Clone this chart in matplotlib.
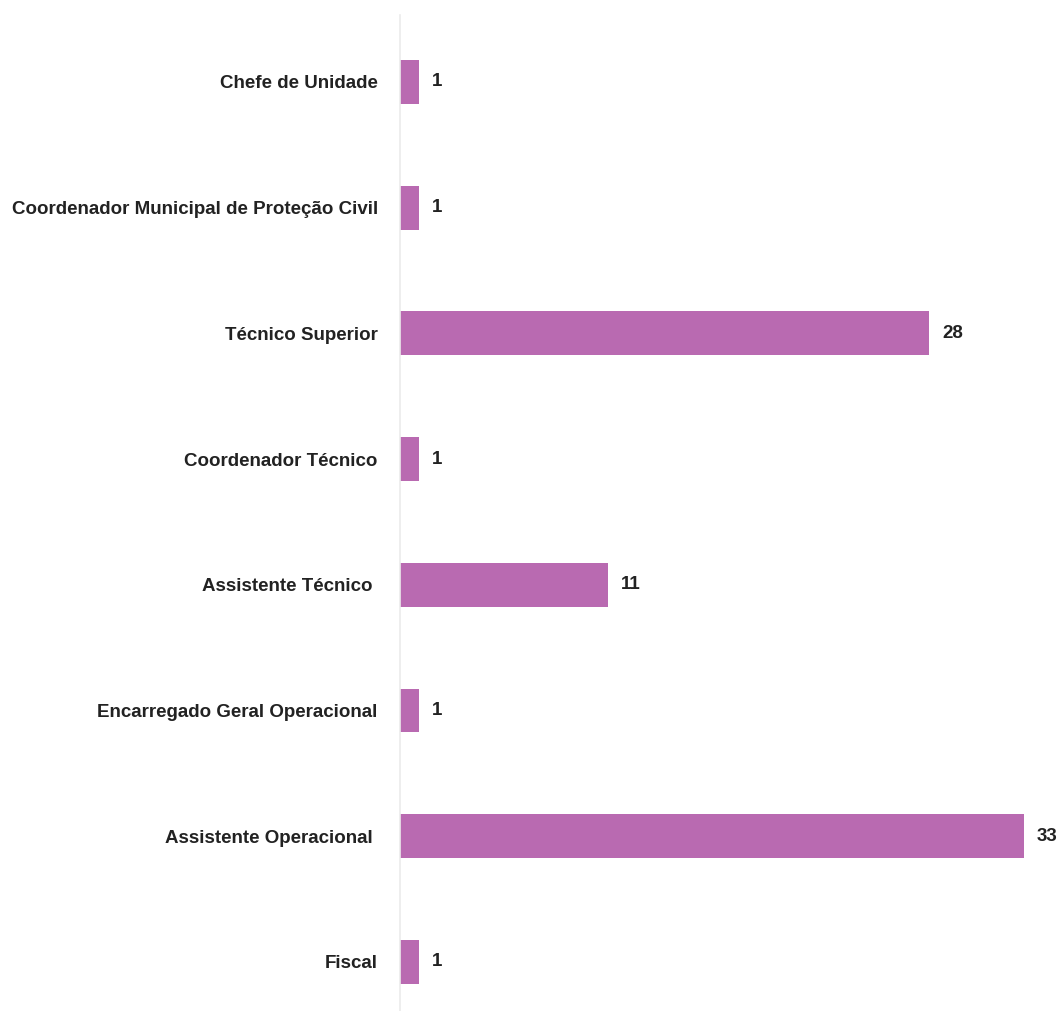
import matplotlib
matplotlib.use("Agg")
import matplotlib.pyplot as plt
from matplotlib import font_manager

categorias = ["Chefe de Unidade",
              "Coordenador Municipal de Proteção Civil",
              "Técnico Superior",
              "Coordenador Técnico",
              "Assistente Técnico ",
              "Encarregado Geral Operacional",
              "Assistente Operacional ",
              "Fiscal"]
valores = [1, 1, 28, 1, 11, 1, 33, 1]

nomes = {f.name for f in font_manager.fontManager.ttflist}
fonte = ["Liberation Sans Narrow", "Liberation Sans", "DejaVu Sans"]
fonte = [f for f in fonte if f in nomes] or ["DejaVu Sans"]
plt.rcParams["font.family"] = fonte

cor = "#b96ab1"

W, H = 1064, 1011
fig = plt.figure(figsize=(W / 100, H / 100), dpi=100)
ax = fig.add_axes([400 / W, 0, 1 - 400 / W, (H - 15) / H])

pos = list(range(len(categorias)))
ax.barh(pos, valores, height=0.35, color=cor)

px_per_unit = 18.9
ax.set_xlim(0, (W - 400) / px_per_unit)
top = -0.533
ax.set_ylim(top + (H - 15) / 125.7, top)

for p, v in zip(pos, valores):
    ax.text(v + 0.7, p, str(v), va="center", ha="left", fontsize=13.5,
            fontweight="bold", color="#222222", clip_on=False)

ax.set_yticks(pos)
ax.set_yticklabels(categorias, fontsize=13.5, fontweight="bold", color="#222222")
ax.tick_params(axis="y", length=0, pad=16)
ax.set_xticks([])

for s in ["top", "right", "bottom"]:
    ax.spines[s].set_visible(False)
ax.spines["left"].set_color("#ebebeb")
ax.spines["left"].set_linewidth(1.2)

fig.savefig("out.png", dpi=100)
